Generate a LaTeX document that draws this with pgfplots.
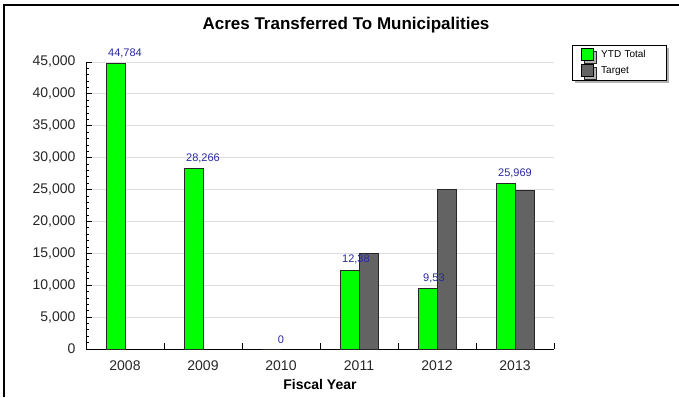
\documentclass[border=0pt]{standalone}
\usepackage{pgfplots}
\pgfplotsset{compat=1.18}
\usepackage{fontspec}
\setmainfont{Liberation Sans}
\usetikzlibrary{shadows}
\definecolor{barGreen}{RGB}{0,255,0}
\definecolor{barGray}{RGB}{99,99,99}
\definecolor{lblBlue}{RGB}{40,40,160}
\definecolor{gridGray}{RGB}{222,222,222}
\begin{document}
\begin{tikzpicture}[x=1pt,y=1pt]
\path[use as bounding box] (0,0) rectangle (679,397);
\draw[line width=1.5pt] (4,0) -- (4,392) -- (679,392);
\node[font=\bfseries\fontsize{17}{20}\selectfont] at (346,372) {Acres Transferred To Municipalities};
\begin{axis}[
  at={(86pt,48pt)}, anchor=south west,
  scale only axis, width=468pt, height=287pt,
  xmin=-0.5, xmax=5.5, ymin=0, ymax=45000,
  axis lines*=left,
  axis line style={black, line width=1pt},
  xtick={-0.5,0.5,1.5,2.5,3.5,4.5,5.5},
  x tick label as interval,
  xticklabels={2008,2009,2010,2011,2012,2013},
  ytick={0,5000,...,45000},
  minor y tick num=4,
  tick align=inside,
  major tick length=6pt, minor tick length=3pt,
  tick style={black, line width=0.8pt},
  scaled y ticks=false,
  /pgf/number format/.cd, 1000 sep={,}, assume math mode=true, /pgfplots/.cd,
  ticklabel style={font=\fontsize{14}{16}\selectfont, text=black!85},
  yticklabel style={xshift=-7pt},
  xticklabel style={yshift=-8pt},
  ymajorgrids, grid style={gridGray, line width=0.8pt},
  xlabel={\bfseries Fiscal Year},
  xlabel style={font=\fontsize{14}{16}\selectfont, yshift=-2pt},
  legend style={at={(rel axis cs:1.0385,1.059)}, anchor=north west,
    draw=black, line width=0.8pt, font=\fontsize{10}{12}\selectfont,
    inner xsep=9pt, inner ysep=3pt, row sep=3pt,
    drop shadow={shadow xshift=3pt, shadow yshift=-3pt, fill=black!30, opacity=1},
    text width=59pt},
  legend cell align=left,
]
\addplot[ybar, bar width=19pt, bar shift=-9.5pt, fill=barGreen, draw=black!85, line width=0.8pt,
  legend image code/.code={\draw[fill=barGreen,draw=black,line width=0.8pt] (0pt,-6pt) rectangle (12pt,6pt);},
  point meta=explicit symbolic,
  nodes near coords,
  nodes near coords style={font=\fontsize{11}{13}\selectfont, text=lblBlue, yshift=2pt}]
  table[x=x, y=y, meta=lab, row sep=\\] {
  x y lab\\
  0 44784 {44,784}\\
  1 28266 {28,266}\\
  2 0 {0}\\
  3 12386 {12,38\phantom{6}}\\
  4 9535 {9,53\phantom{5}}\\
  5 25969 {25,969}\\
  };
\addlegendentry{\hspace*{5pt}YTD Total}
\addplot[ybar, bar width=19pt, bar shift=9.5pt, fill=barGray, draw=black!85, line width=0.8pt,
  legend image code/.code={\draw[fill=barGray,draw=black,line width=0.8pt] (0pt,-6pt) rectangle (12pt,6pt);}]
  coordinates {(3,15000) (4,25000) (5,24900)};
\addlegendentry{\hspace*{5pt}Target}
\end{axis}
\end{tikzpicture}
\end{document}
